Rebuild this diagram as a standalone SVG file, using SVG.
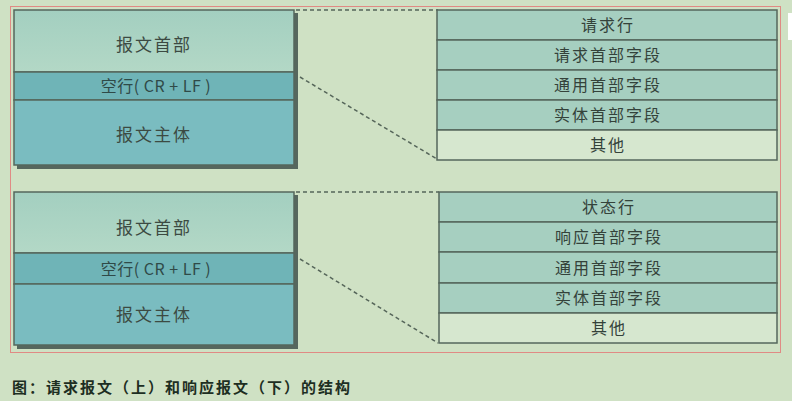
<svg xmlns="http://www.w3.org/2000/svg" width="792" height="401" viewBox="0 0 792 401">
<defs>
<style>
.t{font-family:"Noto Sans CJK SC","Noto Sans",sans-serif;fill:#3c4a42;text-anchor:middle}
.lt{font-size:17px;letter-spacing:2px}
.bl{font-size:16px;fill:#2f4a48;letter-spacing:0.5px}
.rt{font-size:16px;letter-spacing:2px;fill:#34423a}
.cell{stroke:#55675c;stroke-width:1.5}
.hd{fill:#a9d2c2}
.bk{fill:#6fb4b7}
.bd{fill:#7abcc0}
.row{fill:#a6cfc0}
.oth{fill:#d6e7cf}
.dash{fill:none;stroke:#56665a;stroke-width:1.5;stroke-dasharray:4 3}
.shadow{fill:#56675e}
.cap{font-family:"Noto Sans CJK SC","Noto Sans",sans-serif;font-size:15px;font-weight:bold;fill:#1d2e22;letter-spacing:2px}
</style>
<linearGradient id="gh" x1="0" y1="0" x2="0" y2="1"><stop offset="0" stop-color="#a3cfc0"/><stop offset="1" stop-color="#b3d8c6"/></linearGradient>
</defs>
<rect width="792" height="401" fill="#cfe1c4"/>
<rect x="788" y="13" width="4" height="27" fill="#ffffff"/>
<rect x="10.5" y="6.5" width="770" height="346" fill="none" stroke="#e08a84" stroke-width="1"/>

<g id="connectors">
<line class="dash" x1="296" y1="10" x2="438" y2="10"/>
<line class="dash" x1="300" y1="77" x2="437" y2="159"/>
<line class="dash" x1="296" y1="192" x2="439" y2="192"/>
<line class="dash" x1="300" y1="259" x2="438" y2="343"/>
</g>

<g id="request-message">
<rect class="shadow" x="17" y="13" width="281" height="156"/>
<rect class="cell hd" x="14" y="10" width="280" height="62" style="fill:url(#gh)"/>
<rect class="cell bk" x="14" y="72" width="280" height="28"/>
<rect class="cell bd" x="14" y="100" width="280" height="65"/>
<text class="t lt" x="154" y="51">报文首部</text>
<text class="t bl" x="156" y="92">空行( CR + LF )</text>
<text class="t lt" x="154" y="141">报文主体</text>
</g>

<g id="request-detail">
<rect class="cell row" x="437" y="10" width="340" height="30"/>
<rect class="cell row" x="437" y="40" width="340" height="30"/>
<rect class="cell row" x="437" y="70" width="340" height="30"/>
<rect class="cell row" x="437" y="100" width="340" height="30"/>
<rect class="cell oth" x="437" y="130" width="340" height="30"/>
<text class="t rt" x="608" y="31">请求行</text>
<text class="t rt" x="608" y="61">请求首部字段</text>
<text class="t rt" x="608" y="91">通用首部字段</text>
<text class="t rt" x="608" y="121">实体首部字段</text>
<text class="t rt" x="608" y="151">其他</text>
</g>

<g id="response-message">
<rect class="shadow" x="17" y="195" width="281" height="154"/>
<rect class="cell hd" x="14" y="192" width="280" height="61" style="fill:url(#gh)"/>
<rect class="cell bk" x="14" y="253" width="280" height="31"/>
<rect class="cell bd" x="14" y="284" width="280" height="61"/>
<text class="t lt" x="154" y="234">报文首部</text>
<text class="t bl" x="156" y="275">空行( CR + LF )</text>
<text class="t lt" x="154" y="321">报文主体</text>
</g>

<g id="response-detail">
<rect class="cell row" x="439" y="192" width="338" height="30"/>
<rect class="cell row" x="439" y="222" width="338" height="30"/>
<rect class="cell row" x="439" y="252" width="338" height="31"/>
<rect class="cell row" x="439" y="283" width="338" height="30"/>
<rect class="cell oth" x="439" y="313" width="338" height="30"/>
<text class="t rt" x="609" y="213">状态行</text>
<text class="t rt" x="609" y="243">响应首部字段</text>
<text class="t rt" x="609" y="274">通用首部字段</text>
<text class="t rt" x="609" y="304">实体首部字段</text>
<text class="t rt" x="609" y="334">其他</text>
</g>

<text class="cap" x="12" y="393">图：请求报文（上）和响应报文（下）的结构</text>
</svg>
